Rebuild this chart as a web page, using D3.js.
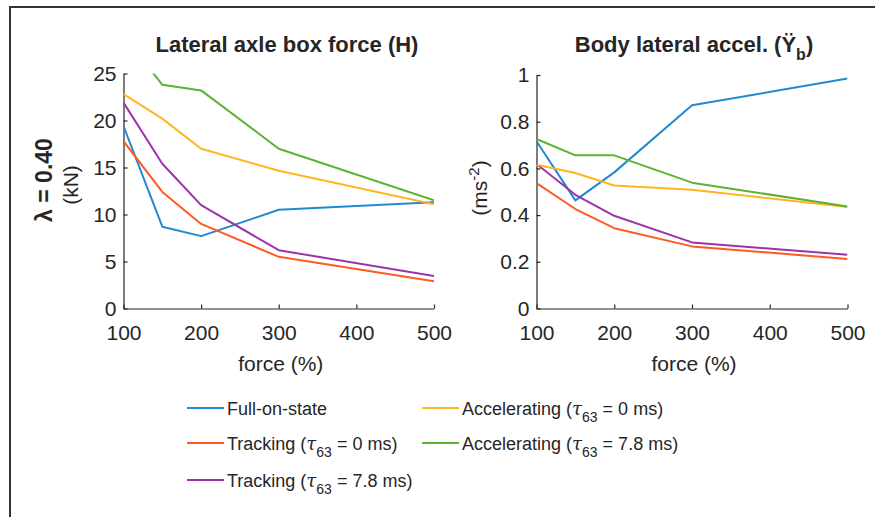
<!DOCTYPE html>
<html>
<head>
<meta charset="utf-8">
<script src="https://cdn.jsdelivr.net/npm/d3@7/dist/d3.min.js"></script>
<style>
  html, body { margin: 0; padding: 0; background: #fff; }
  svg { display: block; font-family: "Liberation Sans", Arial, Helvetica, sans-serif; }
  text { fill: #262626; }
</style>
</head>
<body>
<svg id="chart" width="875" height="517"></svg>
<script>
// ---------- data ----------
const forces = [100, 150, 200, 300, 500];
const seriesNames = ["Full-on-state", "Tracking", "Tracking", "Accelerating", "Accelerating"];
const seriesTau = [null, "0 ms", "7.8 ms", "0 ms", "7.8 ms"];
const seriesColors = ["#1f8ad0", "#ff5a22", "#9b34a9", "#ffb521", "#5db232"];

// Lateral axle box force H (kN)
const hFull    = [19.4, 8.7, 7.7, 10.5, 11.3];
const hTrack0  = [17.8, 12.4, 9.0, 5.5, 2.9];
const hTrack78 = [21.9, 15.4, 11.0, 6.2, 3.45];
const hAccel0  = [22.8, 20.2, 17.0, 14.65, 11.1];
const hAccel78 = [29.1, 23.8, 23.2, 17.0, 11.5];

// Body lateral acceleration (m/s^2)
const aFull    = [0.716, 0.463, 0.583, 0.87, 0.985];
const aTrack0  = [0.537, 0.426, 0.344, 0.266, 0.212];
const aTrack78 = [0.619, 0.487, 0.397, 0.283, 0.23];
const aAccel0  = [0.616, 0.58, 0.527, 0.509, 0.435];
const aAccel78 = [0.726, 0.656, 0.656, 0.539, 0.437];

const xTicks = [100, 200, 300, 400, 500];
const hTicks = [0, 5, 10, 15, 20, 25];
const aTicks = [0, 0.2, 0.4, 0.6, 0.8, 1];

// ---------- drawing ----------
const svg = d3.select("#chart");
const axisColor = "#262626";

// outer frame
svg.append("rect")
  .attr("x", 10).attr("y", 7)
  .attr("width", 900).attr("height", 560)
  .attr("fill", "none").attr("stroke", "#333").attr("stroke-width", 2);

function panel(opts) {
  const { left, right, top, bottom, yDomain, yTicks, yFmt, series, id } = opts;
  const x = d3.scaleLinear().domain([100, 500]).range([left, right]);
  const y = d3.scaleLinear().domain(yDomain).range([bottom, top]);

  svg.append("clipPath").attr("id", id)
    .append("rect").attr("x", left).attr("y", top)
    .attr("width", right - left).attr("height", bottom - top);

  const gx = svg.append("g").attr("transform", `translate(0,${bottom})`)
    .call(d3.axisBottom(x).tickValues(xTicks).tickFormat(d3.format("d"))
      .tickSizeInner(-4).tickSizeOuter(0).tickPadding(17));
  const gy = svg.append("g").attr("transform", `translate(${left},0)`)
    .call(d3.axisLeft(y).tickValues(yTicks).tickFormat(yFmt)
      .tickSizeInner(-4).tickSizeOuter(0).tickPadding(7));
  [gx, gy].forEach(g => {
    g.selectAll("path, line").attr("stroke", axisColor).attr("stroke-width", 1.2);
    g.selectAll("text").attr("font-size", 21).attr("fill", axisColor)
      .attr("font-family", '"Liberation Sans", Arial, sans-serif');
  });

  const line = d3.line().x((d, i) => x(forces[i])).y(d => y(d));
  const lg = svg.append("g").attr("clip-path", `url(#${id})`);
  series.forEach((s, i) => {
    lg.append("path").datum(s)
      .attr("d", line).attr("fill", "none")
      .attr("stroke", seriesColors[i]).attr("stroke-width", 2)
      .attr("stroke-linejoin", "round");
  });

  svg.append("text").attr("x", (left + right) / 2 + 2).attr("y", 371)
    .attr("text-anchor", "middle").attr("font-size", 21).text("force (%)");
  return { x, y };
}

panel({ id: "clipL", left: 123.5, right: 434, top: 73.5, bottom: 308.5,
  yDomain: [0, 25], yTicks: hTicks, yFmt: d3.format("d"),
  series: [hFull, hTrack0, hTrack78, hAccel0, hAccel78] });
panel({ id: "clipR", left: 536.5, right: 847.5, top: 75, bottom: 308.5,
  yDomain: [0, 1], yTicks: aTicks, yFmt: d => d === 0 || d === 1 ? String(d) : d3.format(".1f")(d),
  series: [aFull, aTrack0, aTrack78, aAccel0, aAccel78] });

// titles
svg.append("text").attr("x", 287).attr("y", 52).attr("text-anchor", "middle")
  .attr("font-size", 22).attr("font-weight", "bold").text("Lateral axle box force (H)");
const t2 = svg.append("text").attr("x", 694).attr("y", 52).attr("text-anchor", "middle")
  .attr("font-size", 22).attr("font-weight", "bold");
t2.append("tspan").text("Body lateral accel. (Ÿ");
t2.append("tspan").attr("font-size", 16).attr("dy", 8).text("b");
t2.append("tspan").attr("dy", -8).text(")");

// y labels
svg.append("text").attr("transform", "translate(52,180) rotate(-90)")
  .attr("text-anchor", "middle").attr("font-size", 23).attr("font-weight", "bold")
  .text("λ = 0.40");
svg.append("text").attr("transform", "translate(78,185) rotate(-90)")
  .attr("text-anchor", "middle").attr("font-size", 21).text("(kN)");
const yl2 = svg.append("text").attr("transform", "translate(487,188) rotate(-90)")
  .attr("text-anchor", "middle").attr("font-size", 21);
yl2.append("tspan").text("(ms");
yl2.append("tspan").attr("font-size", 15).attr("dy", -8).text("-2");
yl2.append("tspan").attr("dy", 8).text(")");

// legend
const legendPos = [
  { x: 187, y: 408 }, { x: 187, y: 443 }, { x: 187, y: 480 },
  { x: 422, y: 408 }, { x: 422, y: 443 }
];
seriesNames.forEach((name, i) => {
  const p = legendPos[i];
  svg.append("line").attr("x1", p.x).attr("x2", p.x + 37)
    .attr("y1", p.y).attr("y2", p.y)
    .attr("stroke", seriesColors[i]).attr("stroke-width", 2);
  const t = svg.append("text").attr("x", p.x + 40).attr("y", p.y + 7)
    .attr("font-size", 18);
  if (seriesTau[i] === null) {
    t.text(name);
  } else {
    t.append("tspan").text(name + " (");
    t.append("tspan").attr("font-family", '"DejaVu Serif", "Liberation Serif", serif')
      .attr("font-style", "italic").text("τ");
    t.append("tspan").attr("font-size", 14).attr("dy", 7).text("63");
    t.append("tspan").attr("dy", -7).text(" = " + seriesTau[i] + ")");
  }
});
</script>
</body>
</html>
